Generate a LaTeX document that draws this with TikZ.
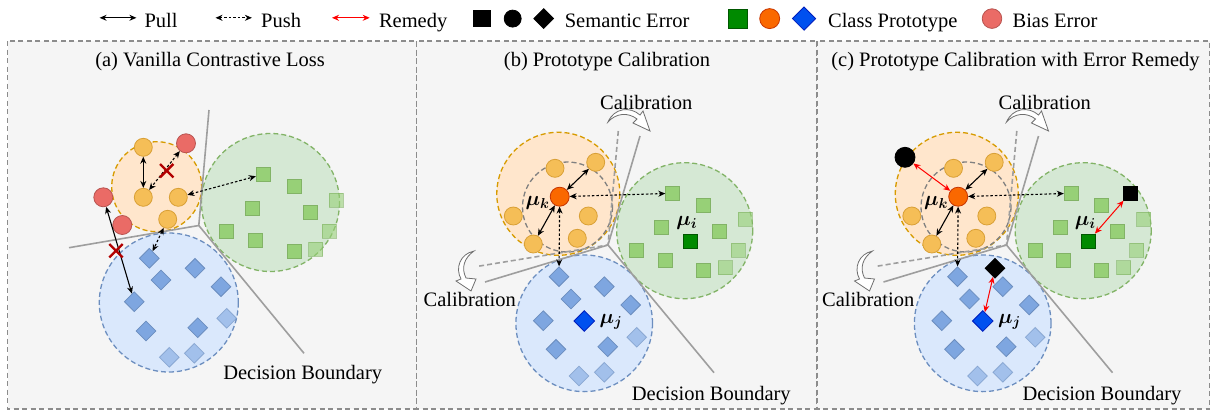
\RequirePackage{fix-cm}
\documentclass[tikz,border=0pt]{standalone}
\usepackage{fontspec}
\setmainfont{Liberation Serif}
\usepackage{bm}
\usetikzlibrary{arrows.meta,shapes.geometric,shapes.misc}

\definecolor{panelbg}{HTML}{F5F5F5}
\definecolor{panelline}{HTML}{8C8C8C}
\definecolor{boundline}{HTML}{9E9E9E}
\definecolor{calgray}{HTML}{6E6E6E}
\definecolor{orgfill}{HTML}{FFE6CC}
\definecolor{orgline}{HTML}{D79B00}
\definecolor{orgdot}{HTML}{F5BE57}
\definecolor{orgdotline}{HTML}{D9A036}
\definecolor{protok}{HTML}{FA6800}
\definecolor{protokline}{HTML}{C73500}
\definecolor{grnfill}{HTML}{D5E8D4}
\definecolor{grnline}{HTML}{82B366}
\definecolor{grnsq}{HTML}{97D077}
\definecolor{protoi}{HTML}{008A00}
\definecolor{protoiline}{HTML}{005700}
\definecolor{blufill}{HTML}{DAE8FC}
\definecolor{bluline}{HTML}{6C8EBF}
\definecolor{bludia}{HTML}{7EA6E0}
\definecolor{protoj}{HTML}{0050EF}
\definecolor{protojline}{HTML}{001DBC}
\definecolor{biasfill}{HTML}{EA6B66}
\definecolor{biasline}{HTML}{B85450}
\definecolor{crossred}{HTML}{B20000}
\definecolor{remedy}{HTML}{FF0000}

\tikzset{
  legtext/.style={anchor=base west, font=\fontsize{20.5}{24}\selectfont},
  ptext/.style={anchor=base, font=\fontsize{20.5}{24}\selectfont},
  mulabel/.style={font=\fontsize{20.5}{24}\selectfont},
  panel/.style={draw=panelline, fill=panelbg, line width=1.3pt, dash pattern=on 5pt off 3.5pt},
  clusterk/.style={draw=orgline, fill=orgfill, line width=1.3pt, dash pattern=on 5pt off 3pt},
  clusteri/.style={draw=grnline, fill=grnfill, line width=1.3pt, dash pattern=on 5pt off 3pt},
  clusterj/.style={draw=bluline, fill=blufill, line width=1.3pt, dash pattern=on 5pt off 3pt},
  ring/.style={draw=gray, line width=1.3pt, dash pattern=on 5pt off 3pt},
  bound/.style={draw=boundline, line width=1.6pt},
  oldbound/.style={bound, dash pattern=on 5pt off 3pt},
  kdot/.style={circle, draw=orgdotline, fill=orgdot, line width=0.8pt, minimum size=18pt},
  idot/.style={rectangle, draw=grnline, fill=grnsq, line width=0.8pt, minimum size=14pt},
  jdot/.style={diamond, draw=bluline, fill=bludia, line width=0.8pt, minimum size=20pt},
  faded/.style={opacity=0.6},
  biasdot/.style={circle, draw=biasline, fill=biasfill, line width=0.8pt, minimum size=19pt},
  kproto/.style={circle, draw=protokline, fill=protok, line width=0.8pt, minimum size=19pt},
  iproto/.style={rectangle, draw=protoiline, fill=protoi, line width=0.8pt, minimum size=14pt},
  jproto/.style={diamond, draw=protojline, fill=protoj, line width=0.8pt, minimum size=21pt},
  semerr/.style={draw=black, fill=black, line width=0.8pt},
  pull/.style={{Stealth[length=7pt,width=6pt]}-{Stealth[length=7pt,width=6pt]}, line width=1.1pt},
  push/.style={pull, dash pattern=on 2.5pt off 2pt},
  remedyarr/.style={pull, draw=remedy, line width=1pt},
  wrong/.style={cross out, draw=crossred, line width=2.4pt, minimum size=11pt},
  calarrow/.style={draw=calgray, fill=white, line width=0.8pt},
}

\begin{document}
\begin{tikzpicture}[x=1pt, y=-1pt, every node/.style={inner sep=0pt}]
  \useasboundingbox (0,0) rectangle (1213,410);

  % Legend
  \coordinate (pl1) at (99.6,17.8);  \coordinate (pl2) at (136.4,17.8);
  \coordinate (ps1) at (215.5,17.8); \coordinate (ps2) at (251.9,17.8);
  \coordinate (rm1) at (332,17.8);   \coordinate (rm2) at (369.7,17.8);
  \draw[pull] (pl1) -- (pl2);
  \draw[push] (ps1) -- (ps2);
  \draw[remedyarr] (rm1) -- (rm2);
  \node[legtext] (lpull) at (144.3,27.7) {Pull};
  \node[legtext] (lpush) at (261,27.7) {Push};
  \node[legtext] (lrem) at (378.8,27.7) {Remedy};
  \node[semerr, rectangle, minimum size=16.5pt] (lsq) at (482,18.6) {};
  \node[semerr, circle, minimum size=17pt] (lci) at (512.7,18.6) {};
  \node[semerr, diamond, minimum size=20pt] (ldi) at (543.7,18.6) {};
  \node[legtext] (lsem) at (564.6,27.7) {Semantic Error};
  \node[iproto, minimum size=19pt] (lpi) at (738,18.6) {};
  \node[kproto, minimum size=20pt] (lpk) at (769.7,18.6) {};
  \node[jproto, minimum size=23.5pt] (lpj) at (804,18.6) {};
  \node[legtext] (lproto) at (827.9,27.7) {Class Prototype};
  \node[biasdot, minimum size=19.6pt] (lbias) at (992,18.6) {};
  \node[legtext] (lbiast) at (1012.4,27.7) {Bias Error};

  % Draw the panels
  \draw[panel] (7.5,41) rectangle (416.5,409);
  \draw[panel] (416.5,41) rectangle (817,409);
  \draw[panel] (817,41) rectangle (1209.5,409);

  % (a) Vanilla contrastive loss
  \node[ptext] (ta) at (210,66) {(a) Vanilla Contrastive Loss};
  \draw[clusterk] (156.7,186.7) circle[radius=45];
  \draw[clusteri] (270.5,202.5) circle[radius=69];
  \draw[clusterj] (168.8,302.5) circle[radius=69.5];

  \coordinate (aj) at (198.8,225.5);
  \draw[bound] (209,110) -- (aj) -- (69,247.7);
  \draw[bound] (aj) -- (304,353.3);

  \node[kdot] (a-o1) at (143.3,147.3) {};
  \node[kdot] (a-o2) at (143.3,197.3) {};
  \node[kdot] (a-o3) at (178.3,197.3) {};
  \node[kdot] (a-o4) at (167.7,219.3) {};
  \node[biasdot] (a-r1) at (186,143.3) {};
  \node[biasdot] (a-r2) at (103.3,197.3) {};
  \node[biasdot] (a-r3) at (122.3,225) {};

  \node[idot] (a-g1) at (263.3,174.3) {};
  \node[idot] (a-g2) at (294,186.7) {};
  \node[idot] (a-g3) at (252.3,208.3) {};
  \node[idot] (a-g4) at (310,212.3) {};
  \node[idot, faded] (a-g5) at (336,200) {};
  \node[idot] (a-g6) at (226.7,231) {};
  \node[idot] (a-g7) at (255,240.7) {};
  \node[idot, faded] (a-g8) at (329,231) {};
  \node[idot] (a-g9) at (294,251) {};
  \node[idot, faded] (a-g10) at (315.7,249) {};

  \node[jdot] (a-d1) at (149.3,258.3) {};
  \node[jdot] (a-d2) at (161,280) {};
  \node[jdot] (a-d3) at (195,268.3) {};
  \node[jdot] (a-d4) at (221,286.7) {};
  \node[jdot] (a-d5) at (134.3,301.7) {};
  \node[jdot] (a-d6) at (146,331) {};
  \node[jdot] (a-d7) at (197.7,327.7) {};
  \node[jdot, faded] (a-d8) at (226.7,318.3) {};
  \node[jdot, faded] (a-d9) at (169.3,357.3) {};
  \node[jdot, faded] (a-d10) at (194.3,353.3) {};

  \draw[pull] (a-o1) -- (a-o2);
  \draw[push] (a-r1) -- (a-o2);
  \draw[push] (a-o3) -- (a-g1);
  \draw[push] (a-o4) -- (a-d1);
  \draw[pull] (a-r2) -- (a-d5);
  \node[wrong] (a-x1) at (166.7,170.7) {};
  \node[wrong] (a-x2) at (116,250.7) {};

  \node[ptext] (a-db) at (302.7,379.3) {Decision Boundary};

  % (b) and (c) share the calibrated layout
  \node[ptext] (tb) at (607,66.5) {(b) Prototype Calibration};
  \node[ptext] (tc) at (1015.5,66.5) {(c) Prototype Calibration with Error Remedy};

  \foreach \p/\dx in {b/0,c/398.5}{
  \begin{scope}[xshift=\dx]
    \draw[clusterk] (558.3,193.8) circle[radius=61.5];
    \draw[ring] (567.5,207) circle[radius=45];
    \draw[clusteri] (684.7,230.7) circle[radius=68];
    \draw[clusterj] (584.2,323.3) circle[radius=68.3];

    % old and calibrated boundaries
    \coordinate (\p-j) at (608,245);
    \draw[oldbound] (618.3,131) -- (\p-j) -- (476.7,266.5);
    \draw[bound] (640,136) -- (\p-j) -- (485,282);
    \draw[bound] (\p-j) -- (714,372.7);

    \draw[calarrow] (608,122) .. controls (614,108) and (630,106) .. (640,115)
      -- (643,111) -- (650,131) -- (633,123) -- (637,119)
      .. controls (628,112) and (616,113) .. cycle;
    \draw[calarrow] (474,251) .. controls (460,254) and (455,268) .. (461,279)
      -- (456,281) -- (471,291) -- (476,279) -- (466,278)
      .. controls (461,268) and (464,258) .. cycle;
    \node[ptext] (\p-cal1) at (646.3,109.3) {Calibration};
    \node[ptext] (\p-cal2) at (469.7,306) {Calibration};

    \node[kdot] (\p-o1) at (555,168.3) {};
    \node[kdot] (\p-o2) at (595.7,162.3) {};
    \node[kdot] (\p-o3) at (513.3,216) {};
    \node[kdot] (\p-o4) at (588.3,216) {};
    \node[kdot] (\p-o5) at (533.3,244) {};
    \node[kdot] (\p-o6) at (577.3,238.3) {};
    \node[kproto] (\p-mk) at (559.7,196.7) {};
    \node[mulabel] (\p-lk) at (537.5,203) {$\bm{\mu_k}$};

    \node[idot] (\p-g1) at (672.7,193.3) {};
    \node[idot] (\p-g2) at (703.3,205.7) {};
    \node[idot] (\p-g3) at (661.7,227.3) {};
    \node[idot] (\p-g4) at (719.3,231) {};
    \node[idot, faded] (\p-g5) at (745,219) {};
    \node[idot] (\p-g6) at (636.7,250) {};
    \node[idot] (\p-g7) at (665,260) {};
    \node[idot, faded] (\p-g8) at (738.3,250) {};
    \node[idot] (\p-g9) at (703.3,270) {};
    \node[idot, faded] (\p-g10) at (725,267.7) {};
    \node[iproto] (\p-mi) at (690,241) {};
    \node[mulabel] (\p-li) at (686.7,223) {$\bm{\mu_i}$};

    \node[jdot] (\p-d1) at (559,276.7) {};
    \node[jdot] (\p-d2) at (571,299) {};
    \node[jdot] (\p-d3) at (604.3,286.7) {};
    \node[jdot] (\p-d4) at (630.7,305) {};
    \node[jdot] (\p-d5) at (543.3,320.7) {};
    \node[jdot] (\p-d6) at (556,349.3) {};
    \node[jdot] (\p-d7) at (607.7,346.7) {};
    \node[jdot, faded] (\p-d8) at (636.7,337.3) {};
    \node[jdot, faded] (\p-d9) at (579,376) {};
    \node[jdot, faded] (\p-d10) at (604.3,372.3) {};
    \node[jproto] (\p-mj) at (584.3,321) {};
    \node[mulabel] (\p-lj) at (611,322) {$\bm{\mu_j}$};

    \draw[pull] (\p-mk) -- (\p-o2);
    \draw[pull] (\p-mk) -- (\p-o5);
    \draw[push] (\p-mk) -- (\p-g1);
    \draw[push] (\p-mk) -- (\p-d1);
  \end{scope}
  }

  \node[ptext] (b-db) at (711.3,400) {Decision Boundary};
  \node[ptext] (c-db) at (1102,400) {Decision Boundary};

  % semantic errors and their remedy in (c)
  \node[semerr, circle, minimum size=20pt] (c-sc) at (905,157.3) {};
  \node[semerr, rectangle, minimum size=14pt] (c-ss) at (1130,193.3) {};
  \node[semerr, diamond, minimum size=20pt] (c-sd) at (995,268.3) {};
  \draw[remedyarr] (c-sc) -- (c-mk);
  \draw[remedyarr] (c-ss) -- (c-mi);
  \draw[remedyarr] (c-sd) -- (c-mj);
\end{tikzpicture}
\end{document}
